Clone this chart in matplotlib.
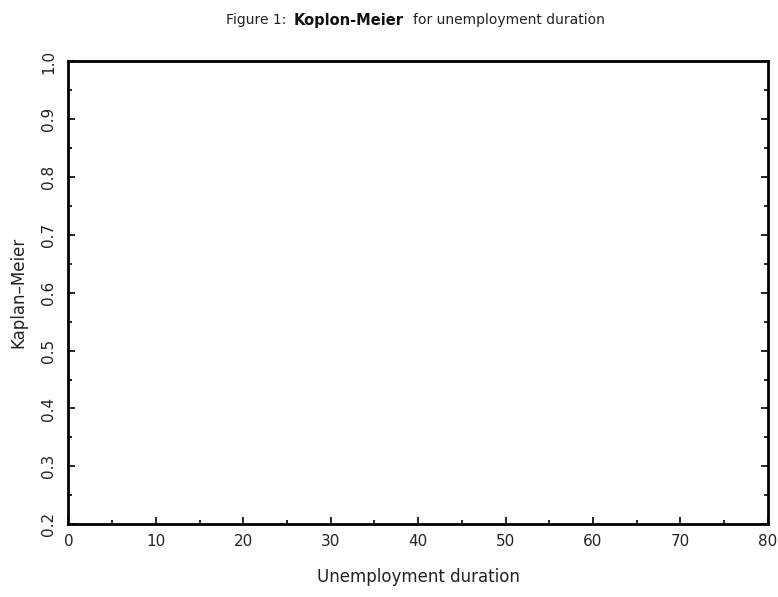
import matplotlib
matplotlib.use("Agg")
import matplotlib.pyplot as plt
from matplotlib.ticker import MultipleLocator

# Axis ranges / ticks (curve not visible in the scan)
x_ticks = [0, 10, 20, 30, 40, 50, 60, 70, 80]
y_ticks = [0.2, 0.3, 0.4, 0.5, 0.6, 0.7, 0.8, 0.9, 1.0]
y_tick_labels = ["0.2", "0.3", "0.4", "0.5", "0.6", "0.7", "0.8", "0.9", "1.0"]
title_parts = ["Figure 1:", "Koplon-Meier", "for unemployment duration"]
x_label = "Unemployment duration"
y_label = "Kaplan\u2013Meier"

plt.rcParams['font.family'] = ['DejaVu Sans']

fig = plt.figure(figsize=(7.78, 5.97), dpi=100)
ax = fig.add_axes([0.088, 0.122, 0.899, 0.775])
ax.set_xlim(x_ticks[0], x_ticks[-1])
ax.set_ylim(y_ticks[0], y_ticks[-1])

ax.set_xticks(x_ticks)
ax.set_yticks(y_ticks)
ax.set_yticklabels(y_tick_labels, rotation=90, va='center')
ax.xaxis.set_minor_locator(MultipleLocator(5))
ax.yaxis.set_minor_locator(MultipleLocator(0.05))

ax.tick_params(which='both', direction='in', left=True, right=True, bottom=True, top=False,
               labelsize=11, colors='black', width=1.2)
ax.tick_params(which='major', length=5)
ax.tick_params(which='minor', length=3)
ax.tick_params(axis='y', pad=9)
ax.tick_params(axis='x', pad=7)
for lbl in ax.get_xticklabels() + ax.get_yticklabels():
    lbl.set_color('#222222')

for s in ax.spines.values():
    s.set_linewidth(2.0)
    s.set_color('black')

ax.set_xlabel(x_label, fontsize=12, labelpad=14, color='#222222')
ax.set_ylabel(y_label, fontsize=12, labelpad=10, color='#222222')

# Title built from three pieces placed one after another
W, H = 778, 597
ty = 1 - 20 / H
t1 = fig.text(233 / W, ty, title_parts[0], fontsize=10, va='center', ha='left', color='#222222')
t2 = fig.text(0, ty, title_parts[1], fontsize=10.5, va='center', ha='left', weight='bold', color='#111111')
t3 = fig.text(0, ty, title_parts[2], fontsize=10, va='center', ha='left', color='#222222')
fig.canvas.draw()
r = fig.canvas.get_renderer()
w1 = t1.get_window_extent(r).width
w2 = t2.get_window_extent(r).width
w3 = t3.get_window_extent(r).width
gap1, gap2 = 7, 9
total = w1 + gap1 + w2 + gap2 + w3
x0 = 415.5 - total / 2
t1.set_x(x0 / W)
t2.set_x((x0 + w1 + gap1) / W)
t3.set_x((x0 + w1 + gap1 + w2 + gap2) / W)

fig.savefig("out.png", dpi=100, facecolor='white')
